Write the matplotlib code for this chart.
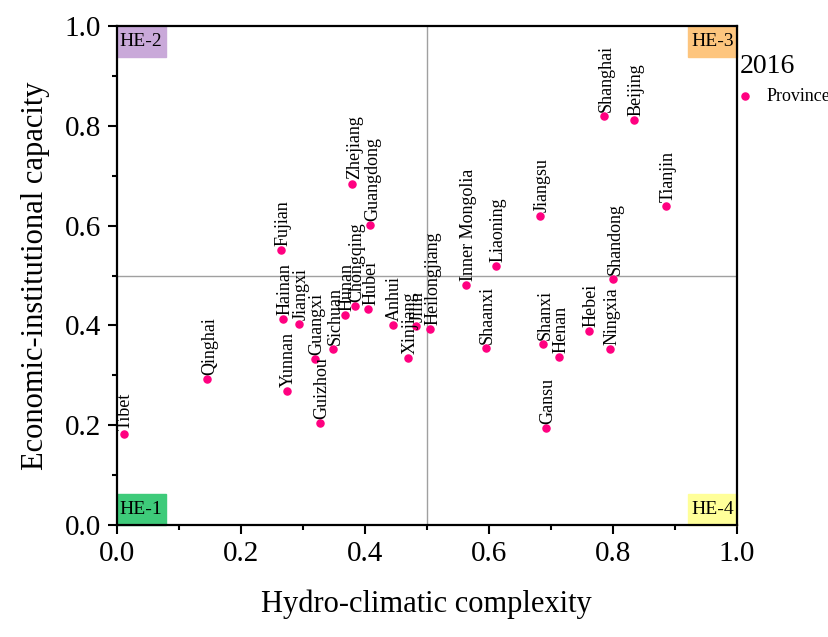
import matplotlib.pyplot as plt
from matplotlib.patches import Rectangle
from matplotlib.ticker import MultipleLocator

plt.rcParams['font.family'] = ['Liberation Serif', 'DejaVu Serif']

# 省份及坐标
provinces = ['Tibet', 'Qinghai', 'Yunnan', 'Hainan', 'Fujian', 'Jiangxi', 'Guangxi',
             'Guizhou', 'Sichuan', 'Hunan', 'Chongqing', 'Zhejiang', 'Guangdong', 'Hubei',
             'Anhui', 'Xinjiang', 'Jilin', 'Heilongjiang', 'Inner Mongolia', 'Shaanxi',
             'Liaoning', 'Jiangsu', 'Shanxi', 'Gansu', 'Henan', 'Hebei', 'Ningxia',
             'Shandong', 'Tianjin', 'Shanghai', 'Beijing']
hydro = [0.011, 0.146, 0.274, 0.268, 0.265, 0.294, 0.320,
         0.328, 0.349, 0.368, 0.384, 0.380, 0.409, 0.406,
         0.445, 0.470, 0.482, 0.506, 0.564, 0.595,
         0.611, 0.682, 0.687, 0.692, 0.714, 0.761, 0.796,
         0.801, 0.886, 0.786, 0.835]
econ = [0.182, 0.292, 0.269, 0.412, 0.551, 0.403, 0.332,
        0.205, 0.352, 0.421, 0.439, 0.684, 0.601, 0.433,
        0.400, 0.334, 0.399, 0.393, 0.481, 0.354,
        0.519, 0.619, 0.362, 0.195, 0.337, 0.389, 0.353,
        0.492, 0.639, 0.819, 0.811]

zones = ['HE-1', 'HE-2', 'HE-3', 'HE-4']
zone_colors = ['#3ecb7a', '#c9a9d9', '#fdc57e', '#ffff99']

fig = plt.figure(figsize=(8.29, 6.37), dpi=100)
ax = fig.add_axes([0.1408, 0.1753, 0.7479, 0.7844])

# 象限分割线
ax.axvline(0.5, color='#a0a0a0', lw=1.0, zorder=1)
ax.axhline(0.5, color='#a0a0a0', lw=1.0, zorder=1)

ax.scatter(hydro, econ, s=26, color='#ff0080', zorder=3, label='Province')
for name, x, y in zip(provinces, hydro, econ):
    ax.annotate(name, (x, y), xytext=(1.5, 3), textcoords='offset points',
                rotation=90, ha='center', va='bottom', fontsize=13)

# 四角标签
bw, bh = 0.079, 0.062
corners = [(0, 0), (0, 1 - bh), (1 - bw, 1 - bh), (1 - bw, 0)]
for (cx, cy), lab, c in zip(corners, zones, zone_colors):
    ax.add_patch(Rectangle((cx, cy), bw, bh, transform=ax.transAxes,
                           color=c, zorder=2, clip_on=False))
    ax.text(cx + bw / 2, cy + bh / 2, lab, transform=ax.transAxes,
            ha='center', va='center', fontsize=14, zorder=4)

ax.set_xlim(0, 1)
ax.set_ylim(0, 1)
ax.xaxis.set_major_locator(MultipleLocator(0.2))
ax.yaxis.set_major_locator(MultipleLocator(0.2))
ax.xaxis.set_minor_locator(MultipleLocator(0.1))
ax.yaxis.set_minor_locator(MultipleLocator(0.1))
ax.tick_params(which='major', direction='out', length=6.5, width=1.5, labelsize=21, pad=5)
ax.tick_params(which='minor', direction='out', length=3.6, width=1.5)
ax.xaxis.set_major_formatter(plt.FormatStrFormatter('%.1f'))
ax.yaxis.set_major_formatter(plt.FormatStrFormatter('%.1f'))
for sp in ax.spines.values():
    sp.set_linewidth(1.6)

ax.set_xlabel('Hydro-climatic complexity', fontsize=22, labelpad=16)
ax.set_ylabel('Economic-institutional capacity', fontsize=22, labelpad=10)

leg = fig.legend(loc='upper left', bbox_to_anchor=(0.877, 0.935), frameon=False,
                 title='2016', fontsize=13, title_fontsize=20, handlelength=0.6,
                 handletextpad=0.9, borderpad=0.2, alignment='left')

plt.savefig('out.png', dpi=100)
